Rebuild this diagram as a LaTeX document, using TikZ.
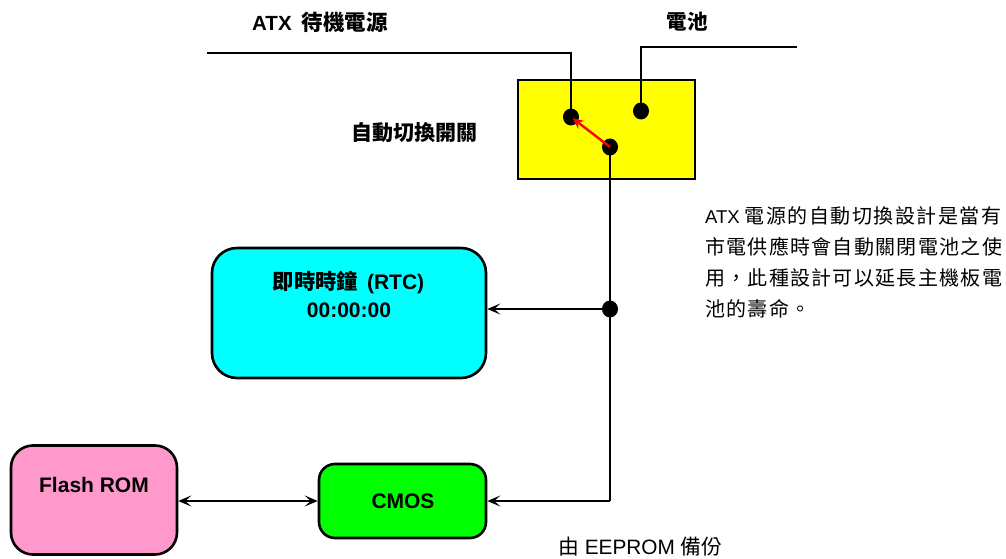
\documentclass[tikz,border=0pt]{standalone}
\usepackage{fontspec}
\setmainfont{Liberation Sans}
\newfontfamily\cjk{Noto Sans CJK TC}
\newfontfamily\cjkw[LetterSpace=6.5]{Noto Sans CJK TC}
\newfontfamily\cjkv[LetterSpace=7.5]{Noto Sans CJK TC}
\usetikzlibrary{arrows.meta,shapes.geometric}
\tikzset{
  wire/.style={line width=2.7pt},
  dotn/.style={ellipse, fill=black, minimum width=16pt, minimum height=17pt, inner sep=0pt},
  boxn/.style={draw=black, line width=2.6pt, inner sep=0pt},
  arr/.style={-{Stealth[length=13pt,width=11pt,inset=6pt]}},
  darr/.style={{Stealth[length=13pt,width=11pt,inset=6pt]}-{Stealth[length=13pt,width=11pt,inset=6pt]}},
  lbl/.style={inner sep=0pt, font=\fontsize{20.5}{24}\selectfont\bfseries},
  txt/.style={inner sep=0pt, anchor=west, font=\fontsize{20}{24}\selectfont}
}
\begin{document}
\begin{tikzpicture}[x=1pt,y=-1pt]
\useasboundingbox (0,0) rectangle (1006,559);
% boxes
\node[boxn, fill={rgb,255:red,255;green,255;blue,0}, minimum width=177pt, minimum height=99pt] (sw) at (606.5,129.5) {};
\node[boxn, fill={rgb,255:red,0;green,255;blue,255}, rounded corners=25pt, minimum width=274pt, minimum height=130pt] (rtc) at (349,313) {};
\node[boxn, fill={rgb,255:red,255;green,153;blue,204}, rounded corners=22pt, minimum width=166pt, minimum height=109pt] (fr) at (94,500) {};
\node[boxn, fill={rgb,255:red,0;green,255;blue,0}, rounded corners=16pt, minimum width=167pt, minimum height=74pt] (cm) at (402.5,501) {};
% coordinates
\coordinate (atxL) at (207,53);
\coordinate (atxC) at (571,53);
\coordinate (batR) at (797,47);
\coordinate (batC) at (641,47);
\coordinate (bend) at (610,501);
% wires
\draw[wire] (atxL) -- (atxC) -- (571,117);
\draw[wire] (batR) -- (batC) -- (641,111);
\draw[wire] (610,147) -- (bend);
\draw[wire, arr] (bend) -- (cm.east |- bend);
\draw[wire, arr] (610,309) -- (rtc.east |- 610,309);
\draw[wire, darr] (fr.east |- cm.west) -- (cm.west);
% dots
\node[dotn] (a) at (571,117) {};
\node[dotn] (b) at (641,111) {};
\node[dotn] (c) at (610,147) {};
\node[dotn] (j) at (610,309) {};
\draw[red, line width=2.4pt, -{Stealth[length=11pt,width=10pt,inset=4pt]}, shorten >=2pt] (c.center) -- (a.center);
% labels
\node[lbl, anchor=west] (t1) at (252,22) {ATX\hspace{10pt}{\cjk\fontsize{21.5}{24}\selectfont 待機電源}};
\node[lbl] (t2) at (687,22) {\cjk 電池};
\node[lbl] (t3) at (414.5,133) {\cjk\fontsize{21}{24}\selectfont 自動切換開關};
\node[lbl, font=\fontsize{21}{24}\selectfont\bfseries] (r1) at (348.5,282) {{\cjk\fontsize{21.3}{24}\selectfont 即時時鐘}\hspace{9pt}(RTC)};
\node[lbl, font=\fontsize{21}{24}\selectfont\bfseries] (r2) at (349,310) {00:00:00};
\node[lbl, font=\fontsize{21}{24}\selectfont\bfseries] (f1) at (94,485) {Flash ROM};
\node[lbl, font=\fontsize{21}{24}\selectfont\bfseries] (c1) at (403,501) {CMOS};
% paragraph
\node[txt] (p1) at (705,216) {\fontsize{18.5}{24}\selectfont ATX {\cjkv\fontsize{20}{24}\selectfont 電源的自動切換設計是當有}};
\node[txt] (p2) at (705,247) {\cjkw 市電供應時會自動關閉電池之使};
\node[txt] (p3) at (705,278) {\cjkw 用，此種設計可以延長主機板電};
\node[txt] (p4) at (705,309) {\cjkw 池的壽命。};
\node[txt, font=\fontsize{20.8}{24}\selectfont] (e1) at (558,547) {{\cjk 由} EEPROM {\cjk 備份}};
\end{tikzpicture}
\end{document}
